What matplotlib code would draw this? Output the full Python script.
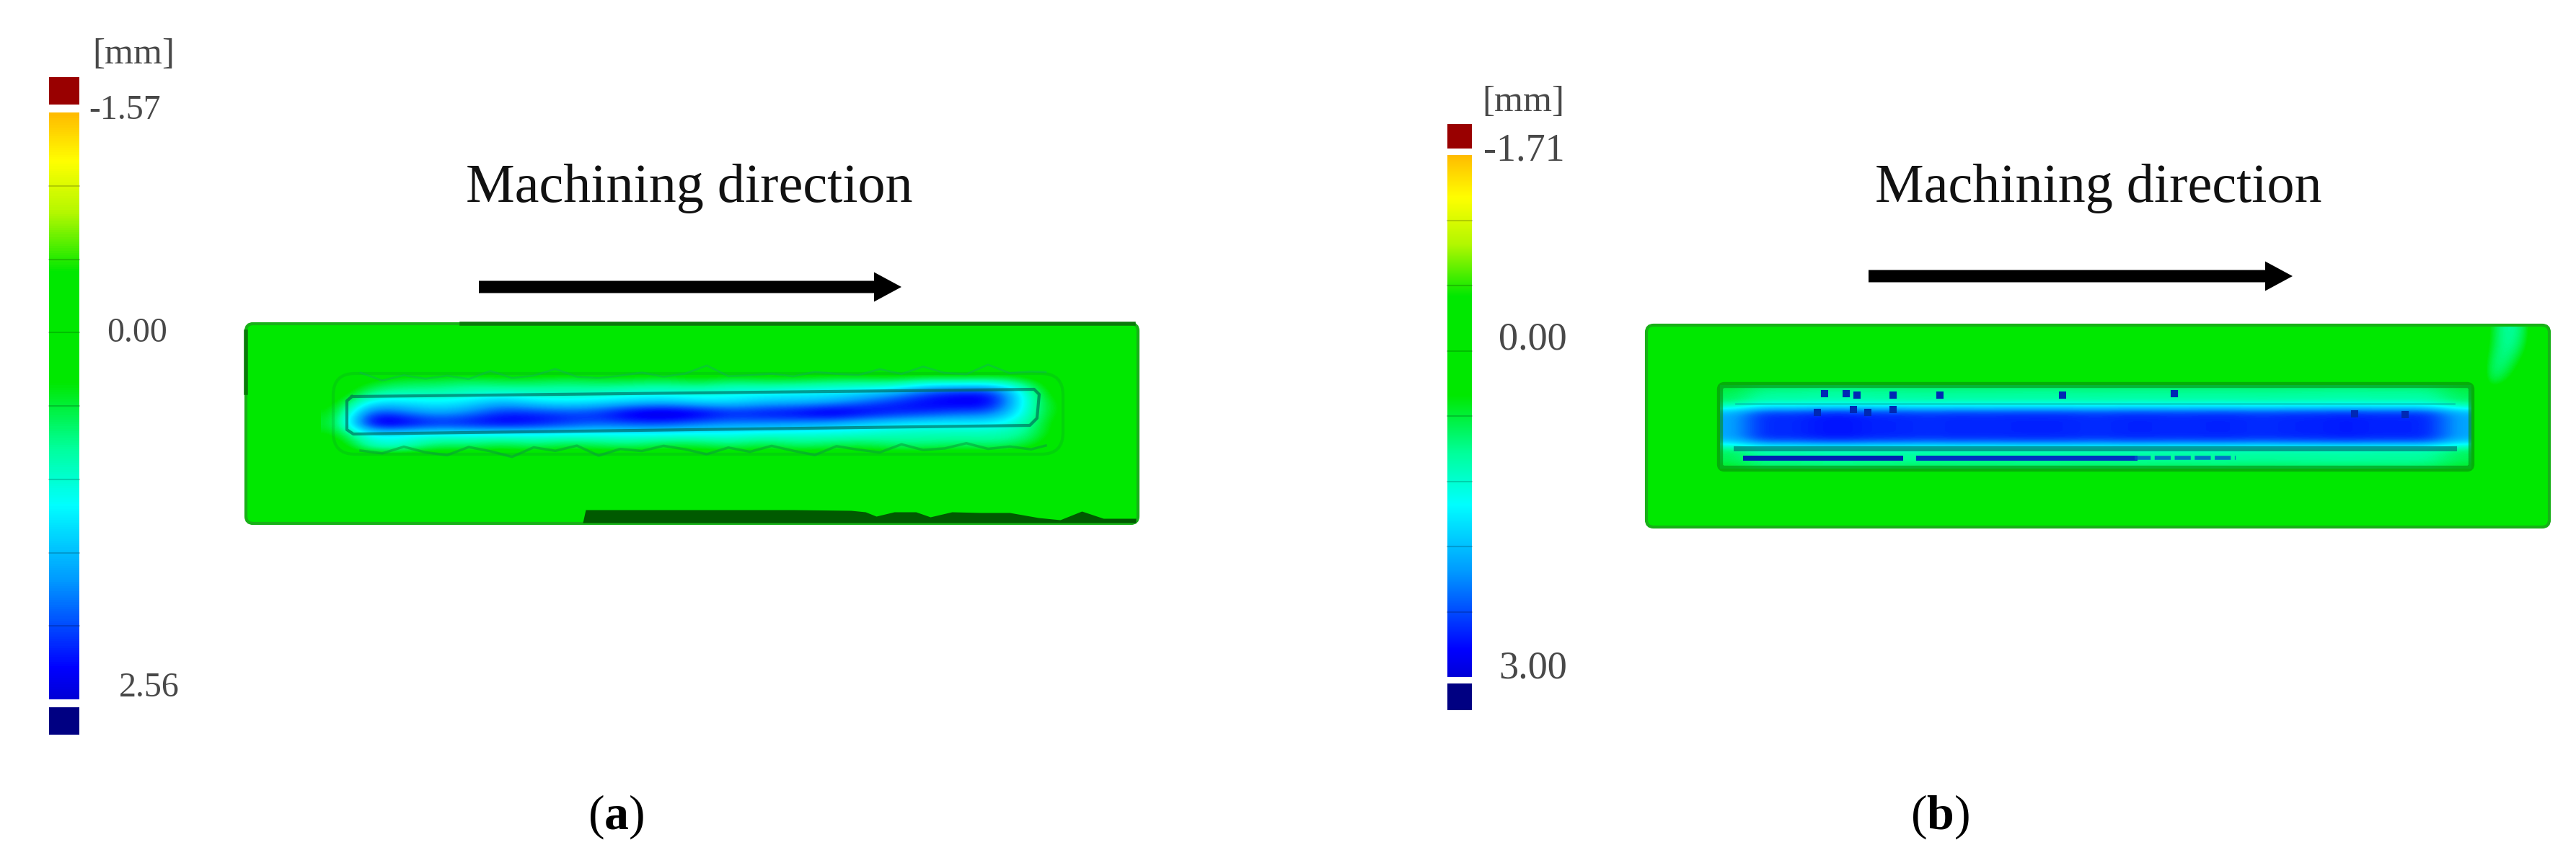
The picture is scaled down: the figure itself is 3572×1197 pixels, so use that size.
import numpy as np
import matplotlib
matplotlib.use('Agg')
import matplotlib.pyplot as plt
from matplotlib.colors import LinearSegmentedColormap
from matplotlib.patches import FancyBboxPatch, Rectangle

ANCHO, ALTO = 3573, 1197

# --- datos ---
rango_a = (-1.57, 2.56)
rango_b = (-1.71, 3.00)
etiquetas_a = ['-1.57', '0.00', '2.56']
etiquetas_b = ['-1.71', '0.00', '3.00']
titulo = 'Machining direction'

# desviacion [mm] alrededor de la cavidad (a), filas de arriba a abajo
campo_a = np.array([
    [0, 0, 0, 0, 0, 0, 0, 0, 0, 0, 0, 0, 0, 0, 0, 0, 0, 0, 0, 0, 0, 0, 0],
    [0, .3, .5, .5, .6, .5, .5, .6, .5, .5, .6, .4, .6, .5, .5, .6, .6, .5, .7, .6, .7, .5, 0],
    [0, .7, .8, .8, .9, .9, .9, .9, .9, 1.0, 1.0, 1.0, 1.1, 1.1, 1.2, 1.2, 1.3, 1.5, 2.0, 2.2, 2.2, 1.0, 0],
    [.2, 1.3, 1.3, 1.2, 1.3, 1.6, 1.3, 1.2, 1.3, 1.4, 1.5, 1.3, 1.3, 1.5, 1.5, 1.6, 1.9, 2.2, 2.4, 2.5, 2.5, 1.0, .2],
    [.3, 2.2, 1.9, 1.6, 1.8, 2.2, 2.2, 2.1, 2.2, 2.6, 2.7, 2.6, 2.3, 2.4, 2.5, 2.7, 2.5, 2.3, 2.2, 2.0, 2.0, 1.0, .2],
    [.4, 2.7, 2.6, 2.3, 2.4, 2.5, 2.4, 2.2, 2.0, 2.1, 2.1, 1.9, 1.8, 1.8, 1.7, 1.6, 1.4, 1.3, 1.2, 1.2, 1.2, .9, .1],
    [.3, 1.2, 1.1, 1.1, 1.1, 1.1, 1.1, 1.1, 1.1, 1.1, 1.1, 1.1, 1.1, 1.0, 1.0, 1.0, 1.0, .9, .9, .9, .9, .8, .1],
    [0, 1.1, 1.1, .6, .7, .5, .7, .5, .6, .7, .5, .5, .7, .5, .7, .6, .5, .7, .7, .6, .7, .5, 0],
    [0, 0, 0, 0, 0, 0, 0, 0, 0, 0, 0, 0, 0, 0, 0, 0, 0, 0, 0, 0, 0, 0, 0],
])
# banda oscura inferior de (a): altura por tramo
banda_x_a = [808, 812, 960, 1100, 1180, 1200, 1215, 1240, 1270, 1290, 1320, 1360, 1400, 1440, 1470, 1500, 1530, 1575]
banda_h_a = [0, 18, 18, 18, 17, 15, 9, 15, 15, 8, 15, 14, 14, 7, 4, 16, 6, 6]
# hilos del borde de (a): desplazamiento vertical
hilos_x_a = [500, 530, 560, 590, 620, 650, 680, 710, 740, 770, 800, 830, 860, 890, 920, 950, 980, 1010,
             1040, 1070, 1100, 1130, 1160, 1190, 1220, 1250, 1280, 1310, 1340, 1370, 1400, 1430, 1450]
hilos_arriba_a = [-6, 5, -2, 3, -1, 4, -7, 3, 0, -9, 2, 4, 1, -3, 3, -1, -12, 3, 2, 0, 4, -2, 1, 3,
                  -5, 2, -8, 1, 3, -10, 2, 0, 1]
hilos_abajo_a = [2, 6, -3, 5, 9, -2, 4, 12, -1, 4, -3, 11, 2, 5, -2, 3, 10, 1, 7, -1, 6, 12, 0, 5,
                 9, -2, 6, 4, -3, 5, 2, 6, 1]

# perfil transversal y longitudinal de la cavidad (b)
perfil_fila_b = [.85, 1.0, 1.05, 1.5, 2.4, 2.6, 2.6, 2.6, 2.6, 2.3, 1.3, 1.0, 1.0, .8]
perfil_col_b = [.75, 1, .98, 1.02, 1.03, 1, 1, .98, 1, .99, 1, 1, 1, .98, 1, 1,
                .99, 1, 1, .98, 1, 1, 1.02, 1, 1, 1, .75]
# manchas de (b)
manchas_x_b = [2530, 2560, 2575, 2625, 2690, 2860, 3015, 2520, 2570, 2590, 2625, 3265, 3335]
manchas_y_b = [546, 546, 548, 548, 548, 548, 546, 572, 568, 572, 568, 574, 575]
# zona clara arriba a la derecha de (b)
claro_b = np.array([
    [0, .5, .95, 1.0, .7, 0],
    [0, .6, .95, .9, .5, 0],
    [0, .8, .9, .6, .2, 0],
    [0, .8, .6, .3, 0, 0],
    [0, 0, 0, 0, 0, 0],
])

mapa = LinearSegmentedColormap.from_list('escala', [
    (0.00, (1.00, 0.74, 0.00)),
    (0.08, (1.00, 1.00, 0.00)),
    (0.17, (0.70, 0.97, 0.00)),
    (0.27, (0.00, 0.91, 0.00)),
    (0.46, (0.00, 0.91, 0.00)),
    (0.57, (0.00, 1.00, 0.60)),
    (0.67, (0.00, 1.00, 1.00)),
    (0.80, (0.00, 0.60, 1.00)),
    (0.95, (0.00, 0.00, 1.00)),
    (1.00, (0.00, 0.00, 0.85)),
])
VERDE = mapa(0.37)
plt.rcParams['font.family'] = ['Liberation Serif', 'DejaVu Serif']
plt.rcParams['mathtext.fontset'] = 'custom'
plt.rcParams['mathtext.bf'] = 'Liberation Serif:bold'
plt.rcParams['mathtext.rm'] = 'Liberation Serif'

fig = plt.figure(figsize=(ANCHO / 100, ALTO / 100), dpi=100)
ax = fig.add_axes([0, 0, 1, 1])


def barra(izq, der, rojo, grad, azul, rango, etiquetas, pos_etq, y_mm, x_mm, talla):
    valores = np.linspace(rango[0], rango[1], 256).reshape(-1, 1)
    ax.imshow(valores, cmap=mapa, vmin=rango[0], vmax=rango[1], aspect='auto',
              extent=(izq, der, grad[1], grad[0]), interpolation='bilinear')
    for y in np.linspace(grad[0], grad[1], 9)[1:-1]:
        ax.plot([izq, der], [y, y], color='k', lw=1.5, alpha=0.18)
    ax.add_patch(Rectangle((izq, rojo[0]), der - izq, rojo[1] - rojo[0], color='#990000', lw=0))
    ax.add_patch(Rectangle((izq, azul[0]), der - izq, azul[1] - azul[0], color='#000082', lw=0))
    for texto, (x, y) in zip(etiquetas, pos_etq):
        ax.text(x, y, texto, ha='left', va='center', fontsize=talla, color='#484848')
    ax.text(x_mm, y_mm, '[mm]', ha='left', va='center', fontsize=37, color='#484848')


def placa(izq, der, arriba, abajo):
    ax.add_patch(FancyBboxPatch((izq, arriba), der - izq, abajo - arriba,
                                boxstyle='round,pad=0,rounding_size=10',
                                facecolor=VERDE, edgecolor='#18b018', lw=3, zorder=1))


def flecha(x0, x1, y):
    ax.arrow(x0, y, x1 - x0, 0, width=17, head_width=41, head_length=38,
             length_includes_head=True, color='k', lw=0)


# --- panel a ---
barra(68, 110, (107, 145), (156, 970), (981, 1019), rango_a, etiquetas_a,
      [(123, 153), (148, 462), (165, 954)], 76, 128, 34.5)
placa(341, 1578, 449, 726)
ax.plot([640, 1572], [449, 449], color='#0a7a0a', lw=4, zorder=2)
ax.plot([341, 341], [460, 545], color='#0a7a0a', lw=4, zorder=2)
ax.imshow(campo_a, cmap=mapa, vmin=rango_a[0], vmax=rango_a[1], aspect='auto',
          extent=(445, 1491, 640, 505), interpolation='bicubic', zorder=2)
ax.plot([488, 1434, 1441, 1438, 1428, 490, 481, 481, 488],
        [550, 540, 547, 580, 590, 602, 596, 556, 550],
        color='#005a50', lw=3, alpha=0.6, zorder=3)
ax.add_patch(FancyBboxPatch((462, 518), 1012, 112, boxstyle='round,pad=0,rounding_size=30',
                            fill=False, edgecolor='#0a9a2a', lw=3, alpha=0.25, zorder=3))
y_arriba = 523 - np.linspace(0, 8, len(hilos_x_a)) + np.array(hilos_arriba_a)
y_abajo = 623 - np.linspace(0, 6, len(hilos_x_a)) + np.array(hilos_abajo_a)
ax.plot(hilos_x_a, y_arriba, color='#10b060', lw=2, alpha=0.45, zorder=3)
ax.plot(hilos_x_a, y_abajo, color='#0a9a40', lw=2.5, alpha=0.55, zorder=3)
ax.fill_between(banda_x_a, 725 - np.array(banda_h_a), 725, color='#005a00', lw=0, zorder=3)
flecha(664, 1250, 398)
ax.text(956, 280, titulo, ha='center', va='baseline', fontsize=54.8, color='#111111')

# --- panel b ---
barra(2007, 2041, (172, 206), (215, 939), (948, 985), rango_b, etiquetas_b,
      [(2057, 209), (2078, 471), (2078, 927)], 142, 2055, 39)
placa(2283, 3535, 451, 731)
campo_b = np.outer(perfil_fila_b, perfil_col_b)
ax.imshow(campo_b, cmap=mapa, vmin=rango_b[0], vmax=rango_b[1], aspect='auto',
          extent=(2385, 3427, 650, 534), interpolation='bicubic', zorder=2)
ax.imshow(claro_b, cmap=mapa, vmin=rango_b[0], vmax=rango_b[1], aspect='auto',
          extent=(3430, 3525, 560, 453), interpolation='bicubic', zorder=2)
ax.add_patch(FancyBboxPatch((2385, 534), 1042, 116, boxstyle='round,pad=0,rounding_size=6',
                            fill=False, edgecolor='#0a8a10', lw=6, alpha=0.6, zorder=3))
ax.plot([2407, 3403], [622, 622], color='#006a70', lw=5, alpha=0.65, zorder=3)
ax.plot([2407, 3403], [560, 560], color='#00b0a0', lw=2, alpha=0.5, zorder=3)
ax.plot([2420, 2635], [635, 635], color='#0020b0', lw=5, zorder=3)
ax.plot([2660, 2960], [635, 635], color='#0030c0', lw=5, zorder=3)
ax.plot([2960, 3100], [635, 635], color='#0050d0', lw=4, ls=(0, (4, 1)), alpha=0.8, zorder=3)
ax.scatter(manchas_x_b, manchas_y_b, s=45, marker='s', color='#0028b4', lw=0, zorder=4)
flecha(2591, 3179, 383)
ax.text(2910, 280, titulo, ha='center', va='baseline', fontsize=54.8, color='#111111')

# --- rotulos ---
ax.text(854, 1150, r'($\mathbf{a}$)', ha='center', va='baseline', fontsize=49, color='k')
ax.text(2690, 1150, r'($\mathbf{b}$)', ha='center', va='baseline', fontsize=49, color='k')

ax.set_xlim(0, ANCHO)
ax.set_ylim(ALTO, 0)
ax.axis('off')
fig.savefig('out.png', dpi=100)
